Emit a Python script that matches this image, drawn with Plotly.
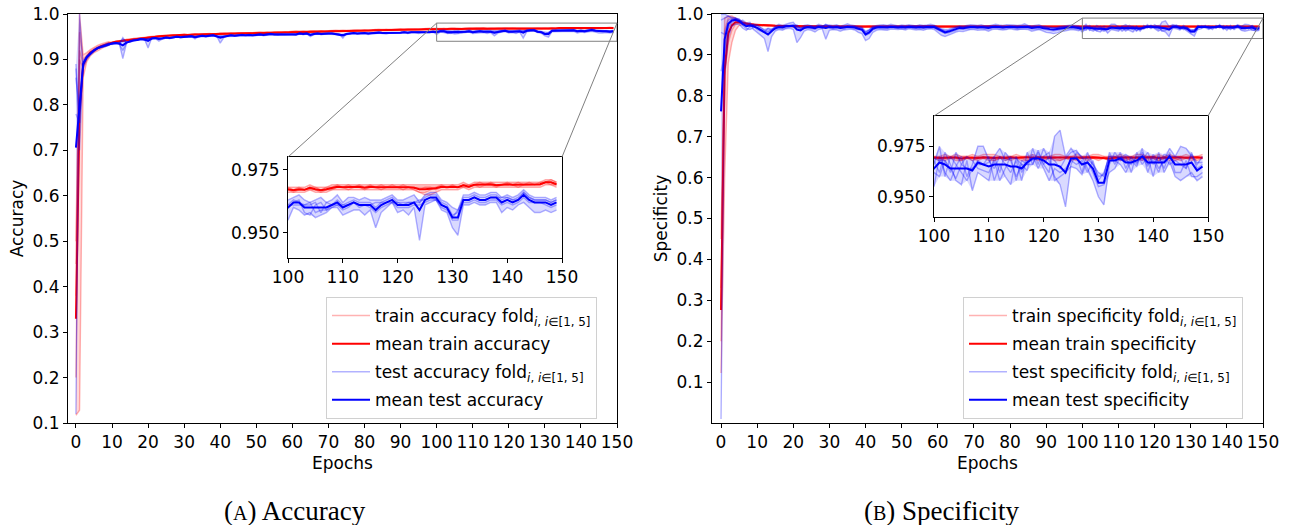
import numpy as np
import plotly.graph_objects as go

W, H = 1293, 525
epochs = list(range(150))

# ---------------- data (per-mille values) ----------------
acc_train_fold1 = [
    117, 128, 860, 895, 908, 915, 919, 924, 928, 931,
    935, 938, 939, 941, 942, 943, 944, 945, 946, 947,
    948, 949, 950, 950, 951, 951, 952, 952, 952, 953,
    953, 953, 954, 954, 954, 954, 955, 955, 955, 955,
    956, 956, 956, 956, 956, 957, 957, 957, 957, 957,
    958, 958, 958, 958, 958, 959, 959, 959, 959, 959,
    960, 960, 960, 960, 960, 961, 961, 961, 961, 961,
    961, 962, 962, 962, 962, 962, 962, 963, 963, 963,
    963, 963, 963, 964, 964, 964, 964, 964, 964, 965,
    965, 965, 965, 965, 965, 965, 965, 966, 966, 966,
    966, 966, 966, 966, 967, 966, 966, 966, 967, 967,
    967, 967, 967, 967, 967, 967, 967, 967, 967, 967,
    967, 967, 967, 967, 966, 965, 965, 966, 967, 967,
    967, 967, 968, 967, 968, 968, 968, 968, 968, 968,
    968, 968, 968, 968, 968, 968, 968, 969, 969, 968]
acc_train_fold2 = [
    200, 900, 880, 900, 912, 918, 923, 927, 930, 933,
    937, 939, 940, 942, 943, 944, 945, 946, 947, 948,
    949, 950, 951, 951, 952, 952, 953, 953, 953, 954,
    954, 954, 955, 955, 955, 955, 956, 956, 956, 956,
    957, 957, 957, 957, 957, 958, 958, 958, 958, 958,
    959, 959, 959, 959, 959, 960, 960, 960, 960, 960,
    961, 961, 961, 961, 961, 962, 962, 962, 962, 962,
    962, 963, 963, 963, 963, 963, 963, 964, 964, 964,
    964, 964, 964, 965, 965, 965, 965, 965, 965, 966,
    966, 966, 966, 966, 966, 966, 966, 967, 967, 967,
    967, 967, 967, 967, 968, 967, 967, 967, 968, 968,
    968, 968, 968, 968, 968, 968, 968, 968, 968, 968,
    968, 968, 968, 968, 968, 968, 968, 968, 968, 968,
    968, 968, 969, 968, 969, 969, 969, 969, 969, 969,
    969, 969, 969, 969, 969, 969, 969, 970, 970, 969]
acc_train_fold3 = [
    380, 920, 890, 905, 915, 921, 925, 929, 932, 935,
    938, 940, 941, 943, 944, 945, 946, 947, 948, 949,
    950, 951, 952, 952, 953, 953, 954, 954, 954, 955,
    955, 955, 956, 956, 956, 956, 957, 957, 957, 957,
    958, 958, 958, 958, 958, 959, 959, 959, 959, 959,
    960, 960, 960, 960, 960, 961, 961, 961, 961, 961,
    962, 962, 962, 962, 962, 963, 963, 963, 963, 963,
    963, 964, 964, 964, 964, 964, 964, 965, 965, 965,
    965, 965, 965, 966, 966, 966, 966, 966, 966, 967,
    967, 967, 967, 967, 967, 967, 967, 968, 968, 968,
    968, 968, 968, 968, 969, 968, 968, 968, 969, 969,
    969, 969, 969, 969, 969, 969, 969, 969, 969, 969,
    969, 969, 969, 969, 969, 969, 969, 969, 969, 969,
    969, 969, 970, 969, 970, 970, 970, 970, 970, 970,
    970, 970, 970, 970, 970, 970, 970, 971, 971, 970]
acc_train_fold4 = [
    450, 960, 900, 910, 918, 924, 927, 931, 934, 937,
    938, 939, 941, 942, 944, 944, 946, 946, 948, 948,
    950, 950, 951, 952, 952, 953, 953, 954, 953, 954,
    955, 954, 955, 956, 955, 956, 956, 957, 956, 957,
    957, 958, 957, 958, 957, 958, 959, 958, 959, 958,
    959, 960, 959, 960, 959, 960, 961, 960, 961, 960,
    961, 962, 961, 962, 961, 962, 963, 962, 963, 962,
    963, 963, 964, 963, 964, 963, 964, 964, 965, 964,
    965, 964, 965, 965, 966, 965, 966, 965, 966, 966,
    967, 966, 967, 966, 967, 966, 967, 967, 968, 967,
    968, 967, 968, 967, 968, 968, 967, 968, 968, 969,
    968, 969, 968, 969, 968, 969, 968, 969, 968, 969,
    968, 969, 968, 967, 966, 966, 967, 968, 969, 968,
    969, 968, 969, 969, 969, 970, 969, 970, 969, 969,
    970, 969, 970, 969, 970, 969, 970, 970, 971, 970]
acc_train_fold5 = [
    500, 1000, 910, 915, 922, 927, 931, 934, 936, 939,
    937, 939, 939, 942, 942, 944, 944, 946, 946, 948,
    948, 950, 950, 951, 951, 952, 952, 953, 952, 953,
    954, 953, 955, 954, 955, 955, 956, 955, 956, 956,
    957, 956, 957, 957, 956, 958, 957, 958, 958, 957,
    959, 958, 959, 959, 958, 960, 959, 960, 960, 959,
    961, 960, 961, 961, 960, 962, 961, 962, 962, 961,
    962, 963, 962, 963, 963, 962, 963, 964, 963, 964,
    964, 963, 964, 965, 964, 965, 965, 964, 965, 966,
    966, 965, 966, 966, 965, 966, 966, 967, 966, 967,
    967, 966, 967, 967, 967, 967, 966, 967, 967, 968,
    968, 967, 968, 968, 967, 968, 968, 967, 968, 968,
    968, 967, 968, 968, 967, 968, 968, 967, 968, 968,
    968, 968, 968, 968, 969, 968, 969, 969, 968, 969,
    969, 969, 968, 969, 969, 969, 969, 970, 969, 969]

acc_test_fold1 = [
    120, 1000, 880, 900, 910, 918, 924, 927, 929, 932,
    937, 938, 936, 902, 935, 941, 944, 944, 946, 945,
    925, 947, 948, 944, 947, 949, 948, 950, 951, 950,
    951, 951, 952, 950, 952, 953, 952, 953, 954, 952,
    936, 948, 952, 954, 953, 954, 955, 954, 955, 954,
    955, 956, 955, 956, 957, 956, 956, 957, 956, 957,
    957, 956, 958, 957, 958, 955, 957, 958, 957, 958,
    958, 958, 957, 956, 947, 957, 958, 959, 958, 959,
    959, 958, 959, 959, 960, 959, 959, 960, 960, 959,
    960, 961, 960, 961, 961, 960, 961, 961, 961, 962,
    963, 964, 965, 963, 962, 963, 964, 962, 963, 965,
    962, 964, 964, 963, 964, 963, 963, 963, 964, 965,
    963, 963, 964, 965, 962, 965, 966, 966, 963, 962,
    960, 959, 965, 965, 966, 965, 965, 966, 966, 964,
    965, 964, 965, 967, 965, 964, 964, 964, 963, 964]
acc_test_fold2 = [
    780, 760, 895, 906, 914, 922, 927, 930, 932, 935,
    933, 935, 937, 940, 938, 938, 941, 942, 944, 943,
    945, 945, 946, 947, 945, 947, 946, 948, 949, 948,
    949, 949, 950, 945, 950, 951, 950, 951, 952, 950,
    951, 951, 953, 953, 951, 952, 953, 952, 953, 952,
    953, 954, 952, 954, 955, 954, 953, 955, 954, 955,
    955, 953, 956, 955, 956, 950, 955, 956, 955, 956,
    956, 956, 955, 953, 955, 955, 956, 957, 956, 957,
    957, 955, 957, 957, 958, 957, 956, 958, 958, 957,
    958, 959, 957, 959, 959, 957, 959, 959, 959, 960,
    955, 960, 959, 957, 958, 956, 957, 958, 960, 960,
    957, 958, 959, 959, 957, 959, 952, 958, 960, 962,
    958, 959, 957, 960, 947, 961, 962, 963, 959, 958,
    952, 949, 961, 961, 962, 961, 961, 962, 962, 958,
    960, 959, 961, 962, 960, 958, 958, 959, 958, 959]
acc_test_fold3 = [
    860, 780, 890, 904, 912, 919, 924, 926, 928, 931,
    936, 937, 934, 920, 936, 942, 943, 944, 946, 946,
    944, 947, 948, 946, 947, 949, 948, 950, 951, 950,
    951, 950, 952, 951, 952, 953, 952, 953, 954, 952,
    952, 951, 952, 954, 953, 954, 955, 954, 955, 954,
    955, 956, 955, 956, 957, 956, 956, 957, 956, 957,
    957, 956, 958, 957, 958, 956, 957, 958, 957, 958,
    958, 958, 957, 956, 954, 957, 958, 959, 958, 959,
    959, 958, 959, 959, 960, 959, 959, 960, 960, 959,
    960, 961, 960, 961, 961, 960, 961, 961, 961, 962,
    961, 963, 962, 961, 961, 962, 958, 962, 961, 963,
    961, 962, 963, 962, 962, 962, 960, 962, 963, 964,
    962, 962, 962, 962, 962, 964, 965, 965, 962, 961,
    957, 958, 964, 964, 965, 964, 964, 965, 965, 963,
    964, 963, 964, 966, 964, 963, 963, 963, 962, 963]
acc_test_fold4 = [
    880, 700, 888, 908, 916, 922, 926, 930, 933, 936,
    934, 936, 934, 945, 939, 939, 941, 943, 944, 942,
    946, 946, 947, 948, 946, 948, 947, 949, 950, 949,
    950, 951, 951, 950, 951, 952, 951, 952, 953, 951,
    951, 950, 952, 953, 952, 953, 954, 953, 954, 953,
    954, 955, 954, 955, 956, 955, 955, 956, 955, 956,
    956, 955, 957, 956, 957, 955, 956, 957, 956, 957,
    957, 957, 956, 955, 955, 956, 957, 958, 957, 958,
    958, 957, 958, 958, 959, 958, 958, 959, 959, 958,
    959, 960, 959, 960, 960, 959, 960, 960, 960, 961,
    960, 962, 963, 958, 957, 961, 962, 959, 961, 961,
    959, 960, 962, 960, 961, 960, 958, 960, 961, 962,
    960, 960, 960, 961, 961, 962, 963, 963, 960, 959,
    955, 955, 962, 962, 963, 962, 962, 963, 963, 961,
    962, 961, 962, 964, 962, 962, 962, 961, 960, 961]
acc_test_fold5 = [
    890, 760, 897, 907, 913, 919, 924, 927, 928, 931,
    935, 934, 934, 948, 937, 940, 941, 942, 945, 944,
    945, 945, 946, 940, 945, 947, 946, 948, 949, 948,
    949, 949, 950, 949, 950, 951, 950, 951, 952, 950,
    950, 950, 951, 951, 951, 952, 953, 952, 953, 952,
    953, 954, 954, 954, 955, 954, 955, 955, 954, 955,
    955, 955, 956, 955, 956, 954, 955, 956, 955, 956,
    956, 956, 955, 955, 954, 955, 956, 957, 956, 957,
    957, 957, 957, 957, 958, 957, 958, 958, 958, 957,
    958, 959, 959, 959, 959, 959, 959, 959, 959, 960,
    961, 961, 961, 961, 962, 958, 959, 959, 960, 961,
    961, 961, 962, 961, 961, 961, 962, 962, 962, 962,
    962, 961, 962, 962, 963, 963, 964, 963, 961, 960,
    956, 959, 963, 963, 964, 963, 963, 964, 964, 964,
    964, 963, 963, 966, 964, 963, 963, 963, 962, 963]

spec_train_fold1 = [
    122, 600, 880, 930, 960, 972, 974, 973, 972, 972,
    972, 971, 971, 970, 971, 970, 970, 970, 970, 969,
    969, 969, 968, 969, 969, 968, 969, 969, 968, 969,
    968, 969, 969, 968, 969, 969, 968, 969, 969, 968,
    969, 968, 969, 969, 968, 969, 969, 968, 969, 969,
    968, 969, 968, 969, 969, 968, 969, 968, 969, 969,
    969, 968, 969, 968, 969, 969, 968, 969, 968, 969,
    968, 969, 969, 968, 968, 969, 969, 968, 969, 968,
    969, 968, 968, 969, 969, 968, 969, 969, 968, 968,
    968, 969, 969, 968, 969, 968, 968, 969, 969, 968,
    969, 968, 969, 969, 968, 968, 969, 968, 969, 969,
    968, 968, 969, 968, 969, 969, 968, 968, 969, 968,
    969, 969, 968, 968, 969, 968, 969, 969, 968, 969,
    968, 969, 968, 969, 968, 969, 968, 968, 969, 968,
    969, 968, 969, 968, 969, 968, 969, 969, 968, 969]
spec_train_fold2 = [
    200, 850, 930, 960, 975, 978, 977, 975, 974, 973,
    973, 973, 972, 972, 972, 971, 971, 971, 971, 970,
    970, 970, 970, 969, 970, 970, 970, 969, 970, 970,
    969, 970, 970, 970, 969, 970, 970, 970, 969, 970,
    970, 969, 970, 970, 970, 969, 970, 970, 970, 969,
    970, 970, 969, 970, 970, 970, 969, 970, 970, 970,
    969, 970, 970, 969, 970, 970, 970, 969, 970, 970,
    970, 969, 970, 970, 969, 970, 970, 970, 969, 970,
    970, 970, 969, 970, 970, 969, 970, 970, 970, 969,
    969, 970, 970, 970, 969, 970, 969, 970, 970, 970,
    970, 969, 970, 969, 970, 970, 970, 969, 970, 969,
    970, 970, 969, 970, 970, 969, 970, 970, 969, 970,
    969, 970, 970, 969, 970, 970, 969, 970, 970, 970,
    970, 969, 970, 970, 969, 970, 970, 969, 970, 970,
    970, 970, 969, 970, 970, 970, 969, 970, 970, 969]
spec_train_fold3 = [
    280, 920, 970, 985, 985, 983, 980, 977, 976, 975,
    974, 974, 973, 973, 973, 972, 972, 972, 972, 971,
    971, 970, 971, 970, 971, 970, 970, 971, 970, 970,
    970, 971, 970, 971, 970, 970, 971, 970, 971, 970,
    971, 970, 970, 971, 970, 971, 970, 970, 971, 970,
    970, 970, 971, 970, 970, 971, 970, 971, 970, 971,
    970, 971, 970, 970, 971, 970, 971, 970, 970, 971,
    971, 970, 971, 970, 970, 970, 971, 970, 971, 970,
    970, 971, 970, 971, 970, 971, 970, 970, 970, 971,
    971, 970, 970, 971, 970, 970, 971, 971, 970, 970,
    970, 970, 971, 970, 971, 970, 970, 971, 970, 971,
    971, 971, 970, 970, 970, 971, 970, 970, 971, 970,
    970, 970, 971, 971, 970, 970, 971, 970, 970, 971,
    971, 970, 970, 970, 971, 970, 970, 971, 971, 970,
    970, 971, 970, 971, 970, 970, 971, 970, 970, 971]
spec_train_fold4 = [
    330, 960, 990, 990, 990, 985, 981, 978, 977, 975,
    973, 972, 972, 972, 971, 971, 971, 970, 971, 970,
    969, 970, 969, 970, 969, 969, 970, 969, 970, 969,
    970, 969, 970, 969, 969, 970, 969, 970, 969, 969,
    969, 970, 969, 969, 970, 969, 969, 970, 969, 970,
    969, 969, 970, 969, 970, 969, 970, 969, 969, 970,
    970, 969, 969, 970, 969, 970, 969, 969, 970, 969,
    969, 970, 969, 969, 970, 969, 970, 970, 969, 969,
    969, 969, 970, 969, 969, 970, 969, 969, 970, 970,
    970, 969, 969, 970, 969, 969, 970, 969, 969, 969,
    969, 970, 969, 970, 969, 969, 969, 970, 969, 970,
    969, 969, 970, 969, 970, 969, 969, 970, 969, 969,
    970, 969, 969, 970, 969, 969, 970, 969, 970, 969,
    969, 970, 969, 969, 970, 969, 969, 970, 969, 970,
    970, 969, 970, 969, 969, 970, 969, 969, 970, 969]
spec_train_fold5 = [
    450, 990, 995, 995, 990, 982, 978, 977, 976, 975,
    974, 974, 973, 973, 972, 972, 971, 971, 971, 971,
    968, 969, 969, 968, 969, 969, 968, 969, 969, 968,
    969, 968, 969, 969, 968, 969, 969, 968, 969, 969,
    968, 969, 969, 968, 969, 968, 969, 969, 968, 969,
    969, 969, 968, 969, 968, 969, 969, 969, 968, 969,
    968, 969, 969, 969, 968, 969, 968, 969, 969, 968,
    969, 968, 969, 969, 969, 968, 969, 968, 969, 969,
    969, 969, 968, 969, 968, 969, 969, 968, 969, 969,
    968, 969, 969, 968, 969, 969, 968, 969, 969, 968,
    969, 969, 968, 969, 969, 968, 969, 969, 968, 969,
    969, 968, 969, 969, 968, 969, 969, 968, 969, 969,
    968, 969, 969, 968, 969, 969, 968, 969, 969, 969,
    969, 969, 968, 969, 969, 968, 969, 969, 968, 969,
    969, 968, 969, 969, 968, 969, 969, 968, 969, 969]

spec_test_fold1 = [
    10, 850, 940, 970, 975, 975, 965, 960, 968, 975,
    972, 965, 960, 958, 962, 970, 975, 972, 976, 978,
    980, 968, 966, 972, 974, 971, 970, 975, 972, 971,
    973, 972, 974, 970, 973, 976, 973, 971, 970, 968,
    958, 962, 970, 972, 973, 974, 972, 975, 973, 971,
    973, 972, 974, 972, 971, 974, 972, 973, 975, 973,
    968, 964, 962, 963, 966, 969, 971, 970, 972, 974,
    973, 972, 974, 971, 971, 973, 975, 973, 972, 974,
    974, 973, 972, 973, 976, 972, 971, 972, 974, 970,
    969, 968, 967, 968, 970, 971, 972, 973, 972, 971,
    955, 970, 962, 958, 965, 970, 960, 966, 975, 975,
    968, 964, 970, 966, 962, 968, 958, 972, 966, 972,
    966, 962, 980, 983, 970, 974, 970, 962, 972, 966,
    962, 960, 972, 966, 972, 964, 970, 966, 974, 962,
    970, 964, 968, 974, 970, 975, 974, 970, 966, 970]
spec_test_fold2 = [
    860, 900, 965, 980, 985, 980, 985, 978, 980, 962,
    955, 948, 940, 908, 945, 958, 962, 960, 964, 965,
    962, 930, 942, 958, 962, 960, 956, 962, 964, 938,
    960, 962, 961, 958, 961, 962, 963, 961, 955, 952,
    935, 940, 955, 960, 962, 961, 960, 963, 962, 962,
    963, 961, 964, 962, 961, 962, 960, 963, 964, 962,
    956, 948, 945, 948, 952, 956, 958, 957, 960, 962,
    962, 960, 961, 961, 958, 962, 963, 962, 961, 962,
    964, 962, 961, 963, 963, 962, 958, 960, 962, 959,
    955, 954, 952, 954, 957, 958, 960, 962, 961, 959,
    968, 962, 972, 966, 958, 956, 968, 953, 962, 960,
    958, 970, 962, 972, 968, 960, 966, 963, 974, 966,
    974, 968, 960, 956, 945, 966, 972, 970, 964, 958,
    950, 946, 966, 972, 968, 970, 962, 972, 966, 970,
    960, 972, 962, 968, 960, 958, 960, 962, 958, 960]
spec_test_fold3 = [
    955, 950, 985, 988, 990, 985, 972, 965, 962, 968,
    968, 962, 958, 955, 960, 966, 968, 970, 972, 971,
    970, 972, 965, 968, 969, 970, 968, 971, 970, 975,
    971, 969, 970, 969, 968, 971, 970, 969, 967, 965,
    955, 960, 967, 970, 970, 971, 970, 971, 970, 969,
    970, 969, 971, 971, 970, 970, 970, 970, 971, 970,
    966, 962, 958, 960, 962, 966, 969, 968, 970, 970,
    971, 970, 970, 970, 969, 970, 971, 971, 969, 970,
    971, 970, 970, 970, 971, 971, 969, 970, 970, 969,
    967, 966, 966, 966, 968, 969, 970, 970, 969, 969,
    966, 975, 960, 970, 966, 962, 958, 964, 968, 966,
    970, 958, 966, 960, 956, 970, 962, 968, 968, 970,
    964, 958, 964, 962, 964, 968, 966, 968, 962, 968,
    958, 962, 970, 968, 966, 962, 968, 965, 972, 966,
    968, 962, 970, 966, 968, 966, 964, 972, 964, 966]
spec_test_fold4 = [
    985, 990, 995, 990, 990, 988, 980, 975, 976, 972,
    962, 958, 955, 965, 963, 962, 965, 963, 966, 968,
    970, 967, 962, 964, 966, 964, 962, 966, 965, 972,
    966, 963, 965, 964, 963, 966, 965, 964, 962, 960,
    948, 952, 961, 964, 965, 964, 963, 966, 965, 964,
    964, 964, 966, 965, 964, 964, 964, 965, 965, 965,
    960, 955, 952, 954, 957, 961, 963, 962, 964, 964,
    965, 964, 965, 963, 963, 965, 966, 964, 964, 964,
    966, 965, 963, 964, 965, 965, 963, 964, 964, 963,
    961, 960, 959, 960, 962, 963, 963, 965, 964, 962,
    962, 960, 968, 962, 972, 966, 970, 968, 964, 963,
    962, 968, 958, 964, 970, 958, 968, 966, 971, 964,
    970, 972, 958, 960, 962, 965, 964, 961, 968, 962,
    955, 956, 962, 964, 970, 968, 966, 970, 968, 972,
    966, 970, 964, 972, 962, 962, 968, 960, 960, 962]
spec_test_fold5 = [
    1000, 1000, 995, 992, 990, 987, 978, 972, 974, 973,
    973, 967, 962, 964, 960, 969, 970, 970, 972, 973,
    973, 973, 965, 968, 969, 970, 969, 971, 969, 974,
    970, 969, 970, 969, 970, 970, 969, 970, 966, 965,
    954, 961, 967, 969, 970, 970, 970, 970, 970, 969,
    970, 969, 970, 970, 969, 970, 969, 969, 970, 970,
    965, 961, 958, 960, 963, 968, 969, 968, 969, 970,
    969, 969, 970, 970, 969, 970, 970, 970, 969, 970,
    970, 970, 969, 970, 970, 970, 969, 969, 970, 969,
    968, 967, 966, 967, 968, 969, 970, 970, 969, 969,
    969, 968, 968, 964, 959, 966, 964, 964, 966, 966,
    967, 970, 974, 968, 969, 969, 966, 966, 966, 973,
    966, 970, 968, 964, 969, 972, 973, 969, 969, 966,
    960, 961, 970, 970, 969, 971, 969, 967, 970, 965,
    971, 967, 971, 970, 970, 969, 964, 971, 967, 967]

main_xticks = [0, 10, 20, 30, 40, 50, 60, 70, 80, 90, 100, 110, 120, 130, 140, 150]
main_yticks = [0.1, 0.2, 0.3, 0.4, 0.5, 0.6, 0.7, 0.8, 0.9, 1.0]
inset_xticks = [100, 110, 120, 130, 140, 150]
inset_yticks = [0.950, 0.975]

all_lists = {
    "acc_train_fold1": acc_train_fold1, "acc_train_fold2": acc_train_fold2,
    "acc_train_fold3": acc_train_fold3, "acc_train_fold4": acc_train_fold4,
    "acc_train_fold5": acc_train_fold5, "acc_test_fold1": acc_test_fold1,
    "acc_test_fold2": acc_test_fold2, "acc_test_fold3": acc_test_fold3,
    "acc_test_fold4": acc_test_fold4, "acc_test_fold5": acc_test_fold5,
    "spec_train_fold1": spec_train_fold1, "spec_train_fold2": spec_train_fold2,
    "spec_train_fold3": spec_train_fold3, "spec_train_fold4": spec_train_fold4,
    "spec_train_fold5": spec_train_fold5, "spec_test_fold1": spec_test_fold1,
    "spec_test_fold2": spec_test_fold2, "spec_test_fold3": spec_test_fold3,
    "spec_test_fold4": spec_test_fold4, "spec_test_fold5": spec_test_fold5,
}
bad = {k: len(v) for k, v in all_lists.items() if len(v) != len(epochs)}
if bad:
    raise SystemExit(f"length mismatch: {bad}")


def frac(v):
    return np.array(v, dtype=float) / 1000.0


# ---------------- layout geometry (pixels of the 1293x525 canvas) ----------------
def px_dom_x(a, b):
    return [a / W, b / W]


def px_dom_y(top, bottom):
    return [1 - bottom / H, 1 - top / H]


panels = [
    dict(metric="accuracy", ylabel="Accuracy",
         train=[acc_train_fold1, acc_train_fold2, acc_train_fold3, acc_train_fold4, acc_train_fold5],
         test=[acc_test_fold1, acc_test_fold2, acc_test_fold3, acc_test_fold4, acc_test_fold5],
         main=("x", "y"), inset=("x2", "y2"), legend="legend",
         main_dx=px_dom_x(68, 617), main_dy=px_dom_y(14, 423),
         main_xr=[-2.2, 150], main_yr=[0.1, 1.0],
         in_dx=px_dom_x(288, 562), in_dy=px_dom_y(157, 258), in_yr=[0.94, 0.98],
         legend_pos=(326, 297)),
    dict(metric="specificity", ylabel="Specificity",
         train=[spec_train_fold1, spec_train_fold2, spec_train_fold3, spec_train_fold4, spec_train_fold5],
         test=[spec_test_fold1, spec_test_fold2, spec_test_fold3, spec_test_fold4, spec_test_fold5],
         main=("x3", "y3"), inset=("x4", "y4"), legend="legend2",
         main_dx=px_dom_x(712, 1263), main_dy=px_dom_y(14, 423),
         main_xr=[-2.5, 150], main_yr=[0.0, 1.0],
         in_dx=px_dom_x(934, 1208), in_dy=px_dom_y(116, 217), in_yr=[0.94, 0.99],
         legend_pos=(963, 297)),
]

RED, BLUE = "#ff0000", "#0000ff"
RED_L, BLUE_L = "rgba(255,0,0,0.3)", "rgba(0,0,255,0.3)"
RED_F, BLUE_F = "rgba(255,0,0,0.15)", "rgba(0,0,255,0.15)"
SUB = "<sub><i>i</i>, <i>i</i>\u2208[1, 5]</sub>"

fig = go.Figure()
for p in panels:
    tr = np.vstack([frac(f) for f in p["train"]])
    te = np.vstack([frac(f) for f in p["test"]])
    for (xa, ya), is_main in [(p["main"], True), (p["inset"], False)]:
        for data, kind, col, lcol, fcol in [(tr, "train", RED, RED_L, RED_F),
                                            (te, "test", BLUE, BLUE_L, BLUE_F)]:
            lo, hi, mean = data.min(axis=0), data.max(axis=0), data.mean(axis=0)
            grp_f = f"{p['metric']}_{kind}_fold"
            grp_m = f"{p['metric']}_{kind}_mean"
            fig.add_trace(go.Scatter(x=epochs, y=lo, mode="lines", line=dict(width=0, color=fcol),
                                     xaxis=xa, yaxis=ya, showlegend=False, hoverinfo="skip",
                                     legend=p["legend"], legendgroup=grp_f))
            fig.add_trace(go.Scatter(x=epochs, y=hi, mode="lines", line=dict(width=0, color=fcol),
                                     fill="tonexty", fillcolor=fcol,
                                     xaxis=xa, yaxis=ya, showlegend=False, hoverinfo="skip",
                                     legend=p["legend"], legendgroup=grp_f))
            for i, f in enumerate(data):
                fig.add_trace(go.Scatter(x=epochs, y=f, mode="lines", line=dict(color=lcol, width=1.4),
                                         name=f"{kind} {p['metric']} fold{SUB}",
                                         xaxis=xa, yaxis=ya, legend=p["legend"], legendgroup=grp_f,
                                         showlegend=(is_main and i == 0)))
            fig.add_trace(go.Scatter(x=epochs, y=mean, mode="lines", line=dict(color=col, width=2),
                                     name=f"mean {kind} {p['metric']}",
                                     xaxis=xa, yaxis=ya, legend=p["legend"], legendgroup=grp_m,
                                     showlegend=is_main))

FS = 17
common = dict(showline=True, mirror=True, linecolor="black", linewidth=1, ticks="outside",
              ticklen=4, tickwidth=1, tickcolor="black", showgrid=False, zeroline=False,
              automargin=False, tickfont=dict(size=FS, color="black", family="DejaVu Sans"))

layout_axes = {}
shapes = []
for k, p in enumerate(panels):
    mx, my = p["main"]
    ix, iy = p["inset"]
    mxn = "xaxis" if mx == "x" else "xaxis" + mx[1:]
    myn = "yaxis" if my == "y" else "yaxis" + my[1:]
    layout_axes[mxn] = dict(domain=p["main_dx"], range=p["main_xr"], tickvals=main_xticks,
                            anchor=my, title=dict(text="Epochs", font=dict(size=FS, color="black"), standoff=5),
                            **common)
    layout_axes[myn] = dict(domain=p["main_dy"], range=p["main_yr"], tickvals=main_yticks,
                            tickformat=".1f", anchor=mx,
                            title=dict(text=p["ylabel"], font=dict(size=FS, color="black"), standoff=4),
                            **common)
    layout_axes["xaxis" + ix[1:]] = dict(domain=p["in_dx"], range=[100, 150], tickvals=inset_xticks,
                                         anchor=iy, **common)
    layout_axes["yaxis" + iy[1:]] = dict(domain=p["in_dy"], range=p["in_yr"], tickvals=inset_yticks,
                                         tickformat=".3f", anchor=ix, **common)

    # zoom rectangle in the main axes
    y0, y1 = p["in_yr"]
    shapes.append(dict(type="rect", xref=mx, yref=my, x0=100, x1=150, y0=y0, y1=y1,
                       line=dict(color="#808080", width=1)))

    # connector lines from rectangle top corners to inset top corners
    def to_paper_x(v, dom=p["main_dx"], r=p["main_xr"]):
        return dom[0] + (v - r[0]) / (r[1] - r[0]) * (dom[1] - dom[0])

    def to_paper_y(v, dom=p["main_dy"], r=p["main_yr"]):
        return dom[0] + (v - r[0]) / (r[1] - r[0]) * (dom[1] - dom[0])

    for xv, ixp in [(100, p["in_dx"][0]), (150, p["in_dx"][1])]:
        shapes.append(dict(type="line", xref="paper", yref="paper",
                           x0=to_paper_x(xv), y0=to_paper_y(y1), x1=ixp, y1=p["in_dy"][1],
                           line=dict(color="#808080", width=1)))

legend_style = dict(bgcolor="rgba(255,255,255,0.85)", bordercolor="#d0d0d0", borderwidth=1,
                    font=dict(size=FS, color="black", family="DejaVu Sans"),
                    xanchor="left", yanchor="top", traceorder="grouped", tracegroupgap=3,
                    itemwidth=38)
lx0, ly0 = panels[0]["legend_pos"]
lx1, ly1 = panels[1]["legend_pos"]

fig.update_layout(
    width=W, height=H, autosize=False,
    margin=dict(l=0, r=0, t=0, b=0),
    paper_bgcolor="white", plot_bgcolor="white",
    font=dict(family="DejaVu Sans", size=FS, color="black"),
    legend=dict(x=lx0 / W, y=1 - ly0 / H, **legend_style),
    legend2=dict(x=lx1 / W, y=1 - ly1 / H, **legend_style),
    shapes=shapes,
    annotations=[
        dict(text='(<span style="font-size:20px">A</span>) Accuracy', x=295 / W, y=1 - 511 / H,
             xref="paper", yref="paper", showarrow=False, xanchor="center", yanchor="middle",
             font=dict(family="Liberation Serif", size=27, color="black")),
        dict(text='(<span style="font-size:20px">B</span>) Specificity', x=942 / W, y=1 - 511 / H,
             xref="paper", yref="paper", showarrow=False, xanchor="center", yanchor="middle",
             font=dict(family="Liberation Serif", size=27, color="black")),
    ],
    **layout_axes,
)

fig.write_html("out.html")
